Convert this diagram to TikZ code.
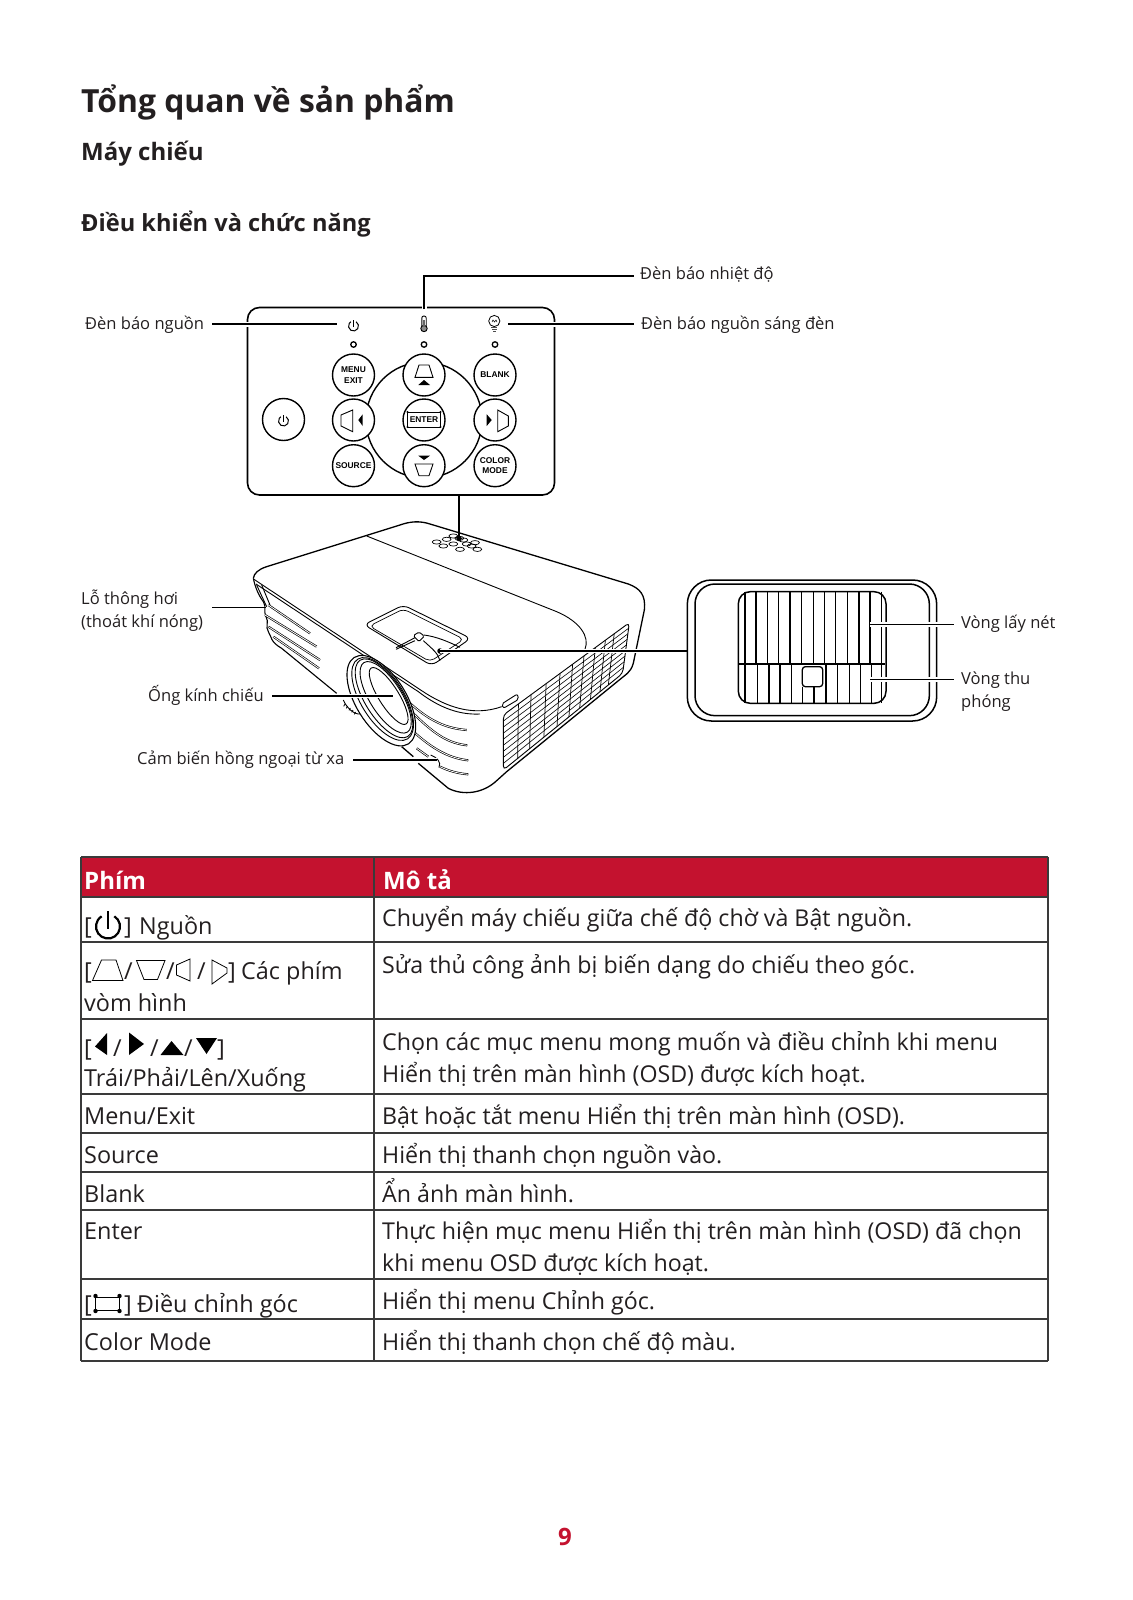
\documentclass[tikz,border=0pt]{standalone}
\usepackage{fontspec}
\setmainfont{Open Sans}
\newfontfamily\arialf{Liberation Sans}
\usetikzlibrary{calc}
\definecolor{ink}{HTML}{231F20}
\definecolor{tred}{HTML}{C4122F}
\definecolor{grid}{HTML}{3A3A3A}
\tikzset{
  lbl/.style={anchor=base west,inner sep=0pt,text=ink,font=\fontsize{16.55}{22.5}\selectfont},
  cell/.style={anchor=base west,inner sep=0pt,text=ink,align=left,font=\fontsize{23.4}{32}\selectfont},
  desc/.style={anchor=base west,inner sep=0pt,text=ink,align=left,font=\fontsize{23.2}{32}\selectfont},
  head/.style={anchor=base west,inner sep=0pt,text=white,font=\bfseries\fontsize{24}{30}\selectfont},
  btn/.style={circle,draw=black,line width=1.4pt,fill=white,minimum size=42pt,inner sep=0pt,align=center,font=\arialf\bfseries\fontsize{8.4}{10.5}\selectfont},
  led/.style={circle,draw=black,line width=1.3pt,fill=white,minimum size=5.5pt,inner sep=0pt},
  con/.style={line width=1.6pt,draw=black},
  halo/.style={line width=5pt,draw=white},
  dotc/.style={circle,fill=black,inner sep=0pt,minimum size=5.5pt},
  thin/.style={line width=.9pt,draw=black},
  vent/.style={double=white,draw=black,line width=.65pt,double distance=.8pt},
  tline/.style={line width=1.2pt,draw=grid}
}
\newcommand{\powersym}[4]{\coordinate (pw) at (#1,#2);
  \draw[x=1pt,y=1pt,line width=#4,draw=black] (pw) ++(58:#3) arc (58:-238:#3);
  \draw[x=1pt,y=1pt,line width=#4,draw=black] (pw) ++(0,-.2*#3) -- ++(0,1.5*#3);}
\begin{document}
\begin{tikzpicture}[x=1pt,y=-1pt]
\useasboundingbox (0,0) rectangle (1132,1600);
\fill[white] (0,0) rectangle (1132,1600);
% headings
\node[anchor=base west,inner sep=0pt,text=ink,font=\bfseries\fontsize{31.85}{36}\selectfont] (title) at (81,113) {Tổng quan về sản phẩm};
\node[anchor=base west,inner sep=0pt,text=ink,font=\bfseries\fontsize{24}{30}\selectfont] (sub) at (81,160.5) {Máy chiếu};
\node[anchor=base west,inner sep=0pt,text=ink,font=\bfseries\fontsize{23.6}{30}\selectfont] (sec) at (81,231) {Điều khiển và chức năng};
% panel
\draw[line width=1.6pt,rounded corners=12pt] (247.5,307.5) rectangle (554.5,495);
\node[circle,draw=black,line width=1.4pt,minimum size=116pt,inner sep=0pt] (ring) at (424,420) {};
\node[btn] (menu) at (353.5,375) {MENU\\EXIT};
\node[btn] (pbtn) at (283.5,419.5) {};
\node[btn] (lbtn) at (353.5,420) {};
\node[btn] (srcb) at (353.5,465.7) {SOURCE};
\node[btn] (ubtn) at (424,375) {};
\node[btn] (enter) at (424,420) {ENTER};
\node[btn] (dbtn) at (424,465.7) {};
\node[btn] (blank) at (495,375) {BLANK};
\node[btn] (rbtn) at (495,420) {};
\node[btn] (cmod) at (495,465.7) {COLOR\\MODE};
\node[led] (led1) at (353.5,344.5) {};
\node[led] (led2) at (424,344.5) {};
\node[led] (led3) at (495,344.5) {};
\powersym{353.5}{326}{5pt}{1pt}
\powersym{283.5}{421}{5pt}{1pt}
% thermometer
\draw[line width=.9pt,rounded corners=2pt] (421.8,316) rectangle (426.2,328);
\draw[line width=.9pt,fill=black!45] (424,328.5) circle (3.2pt);
\fill[black!60] (423.2,320) rectangle (424.8,327);
% bulb
\draw[line width=.8pt] (494.3,321) circle (5.6pt);
\draw[line width=.5pt] (492,322) -- (493,320) -- (494.5,322) -- (496,320) -- (497,322);
\fill[black!70] (491.4,327) rectangle (497.4,328.2);
\fill[black!70] (491.9,329) rectangle (496.9,330.2);
\fill[black!70] (493,331) rectangle (496,332);
% button icons
\draw[line width=.9pt] (415,377.3) -- (433,377.3) -- (429,365) -- (419,365) -- cycle;
\fill[black] (418.3,385) -- (430,385) -- (424,380) -- cycle;
\draw[line width=.9pt] (415,464) -- (433,464) -- (429,475.7) -- (419,475.7) -- cycle;
\fill[black] (418.3,455.7) -- (430,455.7) -- (424,460) -- cycle;
\draw[line width=.9pt] (341,415) -- (352.7,410) -- (352.7,431.7) -- (341,426) -- cycle;
\fill[black] (362.7,414.3) -- (362.7,426) -- (358.3,420) -- cycle;
\draw[line width=.9pt] (497.7,410) -- (508.3,416) -- (508.3,426) -- (497.7,431.7) -- cycle;
\fill[black] (486.7,414.3) -- (486.7,426) -- (491.7,420) -- cycle;
% enter box
\draw[line width=.7pt] (407.5,412) rectangle (440.5,427);
\foreach \cc in {(407.5,412),(440.5,412),(407.5,427),(440.5,427)} \fill \cc circle (1.2pt);
% panel connectors
\coordinate (cl0) at (212,324);
\coordinate (cl1) at (337,324);
\coordinate (cr0) at (508,324);
\coordinate (cr1) at (634,324);
\coordinate (ct0) at (424,309);
\coordinate (ct1) at (424,276);
\coordinate (ct2) at (634,276);
\draw[halo] (240,324) -- (255,324);
\draw[halo] (540,324) -- (562,324);
\draw[halo] (424,300) -- (424,312);
\draw[con] (cl0) -- (cl1);
\draw[con] (cr0) -- (cr1);
\draw[con] (ct0) -- (ct1) -- (ct2);
\node[lbl] (t1) at (640,279) {Đèn báo nhiệt độ};
\node[lbl] (t2) at (641,329) {Đèn báo nguồn sáng đèn};
\node[lbl] (t3) at (85,329) {Đèn báo nguồn};
\node[lbl] (t4) at (81,604) {Lỗ thông hơi};
\node[lbl] (t4b) at (81,627) {(thoát khí nóng)};
\node[lbl] (t5) at (148,701) {Ống kính chiếu};
\node[lbl] (t6) at (137,764) {Cảm biến hồng ngoại từ xa};
\node[lbl] (t7) at (961,628) {Vòng lấy nét};
\node[lbl] (t8) at (961,684) {Vòng thu};
\node[lbl] (t8b) at (961,707) {phóng};
% projector, traced in 3x crop coordinates
\begin{scope}[shift={(240,500)},x=.33333pt,y=-.33333pt]
\draw[line width=1.3pt,line join=round]
  (40,235) .. controls (42,220) and (55,208) .. (80,200)
  -- (480,75) .. controls (510,64) and (540,62) .. (570,72)
  -- (1165,252) .. controls (1200,265) and (1218,285) .. (1213,330)
  -- (1183,475) .. controls (1178,505) and (1170,515) .. (1150,530)
  -- (800,815) -- (770,842) .. controls (730,880) and (670,888) .. (625,865)
  -- (535,790);
\draw[line width=1.3pt] (485,740) -- (520,770);
\draw[thin] (42,238) -- (545,572) .. controls (620,622) and (700,650) .. (785,620);
\draw[thin] (48,252) -- (535,575) .. controls (600,625) and (660,645) .. (720,642);
\draw[thin] (380,108) -- (950,335) .. controls (1020,365) and (1050,410) .. (1035,448);
% left side
\draw[line width=1.1pt] (40,235) .. controls (45,260) and (55,285) .. (70,305)
  .. controls (80,320) and (70,335) .. (78,350)
  .. controls (88,365) and (75,380) .. (85,395)
  .. controls (95,410) and (90,425) .. (125,445) -- (290,580);
\draw[vent] (85,315) -- (210,400);
\draw[vent] (75,345) -- (230,440);
\draw[vent] (85,380) -- (240,480);
\draw[vent] (100,410) -- (237,505);
\draw[line width=.9pt] (50,255) -- (80,320);
\draw[line width=.9pt] (65,255) -- (90,315);
% front stripes
\draw[vent] (505,605) .. controls (570,665) and (620,685) .. (680,690);
\draw[vent] (520,640) .. controls (590,710) and (630,730) .. (682,736);
\draw[vent] (515,690) .. controls (580,750) and (630,775) .. (685,781);
\draw[vent] (530,745) -- (565,770);
\draw[vent] (600,800) .. controls (625,812) and (650,820) .. (685,823);
\draw[thin] (572,765) .. controls (590,772) and (605,785) .. (597,803);
% lens mount
\draw[thin] (310,600) .. controls (320,625) and (345,645) .. (362,642);
\foreach \k in {0,1,2,3,4} \draw[line width=.8pt] ($(315,612)+(\k*8,\k*6)$) -- ++(-4,7);
% lens
\draw[line width=1.1pt,fill=white,shift={(424,602)},rotate=-58] (0,0) ellipse [x radius=51pt,y radius=25pt];
\draw[thin,shift={(428,597)},rotate=-58] (0,0) ellipse [x radius=47pt,y radius=21.5pt];
\draw[thin,shift={(432,595)},rotate=-58] (0,0) ellipse [x radius=45pt,y radius=19pt];
\draw[thin,shift={(437,592)},rotate=-58] (0,0) ellipse [x radius=41pt,y radius=16pt];
\draw[thin,shift={(446,588)},rotate=-58] (0,0) ellipse [x radius=33pt,y radius=10pt];
% focus window
\draw[thin,rounded corners=6pt] (372,374) -- (490,315) -- (692,415) -- (575,497) -- cycle;
\draw[line width=.7pt,rounded corners=5pt] (388,378) -- (490,327) -- (672,418) -- (570,485) -- cycle;
\draw[thin] (468,443) -- (525,413);
\draw[thin] (468,448) -- (525,422);
\draw[thin] (552,405) .. controls (590,410) and (625,425) .. (660,442);
\draw[thin] (550,422) .. controls (575,445) and (595,460) .. (600,482);
\draw[thin,fill=white,rounded corners=1.5pt] (520,407) -- (537,396) -- (553,408) -- (537,425) -- cycle;
% tab
\draw[thin,rounded corners=2pt] (785,612) -- (832,582) -- (836,598) -- (790,625) -- cycle;
% side grid
\coordinate (ga) at (790,645);
\coordinate (gb) at (1168,368);
\coordinate (gc) at (1148,520);
\coordinate (gd) at (790,810);
\draw[thin,rounded corners=4pt] (ga) -- (gb) -- (gc) -- (gd) -- cycle;
\foreach \t in {.12,.22,.34,.45,.55,.64,.73,.81,.88}
  \draw[line width=.7pt] ($(ga)!\t!(gb)$) -- ($(gd)!\t!(gc)$);
\foreach \t in {.11,.22,.33,.44,.55,.66,.77,.88}
  \draw[line width=.6pt] ($(ga)!\t!(gd)$) -- ($(gb)!\t!(gc)$);
% keypad
\foreach \a/\b in {590/126,620/118,640/108,670/120,610/138,640/132,680/132,705/128,660/148,712/148,695/138,658/115}
  \draw[line width=.7pt] (\a,\b) ellipse [x radius=4.4pt,y radius=2.1pt];
\end{scope}
% connectors onto the projector
\coordinate (cp0) at (459,495);
\node[dotc] (cp1) at (459,538.5) {};
\draw[con] (cp0) -- (cp1.center);
\coordinate (cv0) at (212,607.5);
\coordinate (cv1) at (266,607.5);
\draw[con] (cv0) -- (cv1);
\coordinate (cl2) at (272,696);
\coordinate (cl3) at (393,696);
\draw[line width=4pt,draw=white] (cl2) -- (cl3);
\draw[con] (cl2) -- (cl3);
\coordinate (cs0) at (353,760);
\coordinate (cs1) at (437,760);
\draw[line width=4pt,draw=white] (cs0) -- (cs1);
\draw[con] (cs0) -- (cs1);
\node[dotc] (cf1) at (440,651) {};
\coordinate (cf2) at (688,651);
\draw[line width=4pt,draw=white] (cf1.center) -- (cf2);
\draw[con] (cf1.center) -- (cf2);
% focus/zoom detail, in 3x crop coordinates
\begin{scope}[shift={(670,560)},x=.33333pt,y=-.33333pt]
\draw[line width=1.5pt,rounded corners=24pt] (52,60) rectangle (800,483);
\draw[line width=1.5pt,rounded corners=20pt] (75,72) rectangle (778,467);
\draw[line width=1.5pt,rounded corners=12pt] (205,95) rectangle (648,430);
\foreach \xx in {225,258,292,325,360,395,430,463,497,532,567,600,635}
  \draw[line width=1.1pt] (\xx,95) -- (\xx,312);
\foreach \xx in {225,262,297,330,365,468,503,538,572,605,635}
  \draw[line width=1.1pt] (\xx,312) -- (\xx,430);
\draw[line width=1.1pt] (398,380) -- (398,430);
\draw[line width=1.1pt] (432,380) -- (432,430);
\draw[line width=2.4pt] (205,312) -- (646,312);
\draw[line width=1.3pt,fill=white,rounded corners=3pt] (397,320) rectangle (458,380);
\coordinate (zf0) at (600,193);
\coordinate (zf1) at (852,193);
\coordinate (zz0) at (600,358);
\coordinate (zz1) at (852,358);
\draw[halo] (zf0) -- (820,193);
\draw[halo] (zz0) -- (820,358);
\draw[con] (zf0) -- (zf1);
\draw[con] (zz0) -- (zz1);
\end{scope}
% table
\fill[tred] (81,857) rectangle (1048,897);
\foreach \yy in {857,897,942,1019,1094,1133,1172,1210,1279,1319,1361}
  \draw[tline] (81,\yy) -- (1048,\yy);
\draw[tline] (81,857) -- (81,1361);
\draw[tline] (374,857) -- (374,1361);
\draw[tline] (1048,857) -- (1048,1361);
\node[head] (h1) at (84,889) {Phím};
\node[head] (h2) at (383,889) {Mô tả};
% row 1
\node[cell] (a1) at (84,934) {[};
\powersym{108}{926.5}{12pt}{2.2pt}
\node[cell] (a1b) at (124,934) {]};
\node[cell] (a1c) at (139,934) {Nguồn};
\node[desc] (d1) at (382,926) {Chuyển máy chiếu giữa chế độ chờ và Bật nguồn.};
% row 2
\node[cell] (a2) at (84,979) {[};
\draw[line width=.8pt] (92.5,980.5) -- (123,980.5) -- (116,960) -- (101.5,960) -- cycle;
\node[cell] (a2s1) at (124,979) {/};
\draw[line width=.8pt] (136.5,960.5) -- (165,960.5) -- (157.5,979.5) -- (144,979.5) -- cycle;
\node[cell] (a2s2) at (166,979) {/};
\draw[line width=.8pt] (176.5,965) -- (190,959) -- (190,981) -- (176.5,975) -- cycle;
\node[cell] (a2s3) at (197,979) {/};
\draw[line width=.8pt] (212,960) -- (227,968) -- (227,973) -- (212,984) -- cycle;
\node[cell] (a2b) at (228,979) {]};
\node[cell] (a2c) at (241,979) {Các phím};
\node[cell] (a2d) at (84,1011) {vòm hình};
\node[desc] (d2) at (382,973) {Sửa thủ công ảnh bị biến dạng do chiếu theo góc.};
% row 3
\node[cell] (a3) at (84,1056) {[};
\fill[black] (95,1046.5) -- (107,1033) -- (107,1055) -- cycle;
\node[cell] (a3s1) at (113,1056) {/};
\fill[black] (129,1032.5) -- (144,1044) -- (129,1055) -- cycle;
\node[cell] (a3s2) at (150,1056) {/};
\fill[black] (160.5,1055) -- (183.5,1055) -- (171.5,1041) -- cycle;
\node[cell] (a3s3) at (184,1056) {/};
\fill[black] (196,1038) -- (217,1038) -- (206.5,1054) -- cycle;
\node[cell] (a3b) at (217,1056) {]};
\node[cell] (a3c) at (84,1086) {Trái/Phải/Lên/Xuống};
\node[desc] (d3) at (382,1050) {Chọn các mục menu mong muốn và điều chỉnh khi menu};
\node[desc] (d3b) at (382,1082) {Hiển thị trên màn hình (OSD) được kích hoạt.};
% simple rows
\node[cell] (a4) at (84,1124) {Menu/Exit};
\node[desc] (d4) at (382,1124) {Bật hoặc tắt menu Hiển thị trên màn hình (OSD).};
\node[cell] (a5) at (84,1163) {Source};
\node[desc] (d5) at (382,1163) {Hiển thị thanh chọn nguồn vào.};
\node[cell] (a6) at (84,1202) {Blank};
\node[desc] (d6) at (382,1202) {Ẩn ảnh màn hình.};
\node[cell] (a7) at (84,1239) {Enter};
\node[desc] (d7) at (382,1239) {Thực hiện mục menu Hiển thị trên màn hình (OSD) đã chọn};
\node[desc] (d7b) at (382,1271) {khi menu OSD được kích hoạt.};
\node[cell] (a8) at (84,1312) {[};
\draw[line width=.9pt] (95.5,1297) -- (119.5,1297);
\draw[line width=.9pt] (95.5,1310) -- (119.5,1310);
\draw[line width=1.5pt] (95.5,1297) -- (95.5,1310);
\draw[line width=1.5pt] (119.5,1297) -- (119.5,1310);
\foreach \cc in {(95.5,1296),(119.5,1296),(95.5,1311),(119.5,1311)} \fill \cc circle (2.2pt);
\node[cell] (a8b) at (124,1312) {]};
\node[cell] (a8c) at (137,1312) {Điều chỉnh góc};
\node[desc] (d8) at (382,1309) {Hiển thị menu Chỉnh góc.};
\node[cell] (a9) at (84,1350) {Color Mode};
\node[desc] (d9) at (382,1350) {Hiển thị thanh chọn chế độ màu.};
% page number
\node[anchor=base,inner sep=0pt,text=tred,font=\bfseries\fontsize{24}{30}\selectfont] (pg) at (565,1545) {9};
\end{tikzpicture}
\end{document}
